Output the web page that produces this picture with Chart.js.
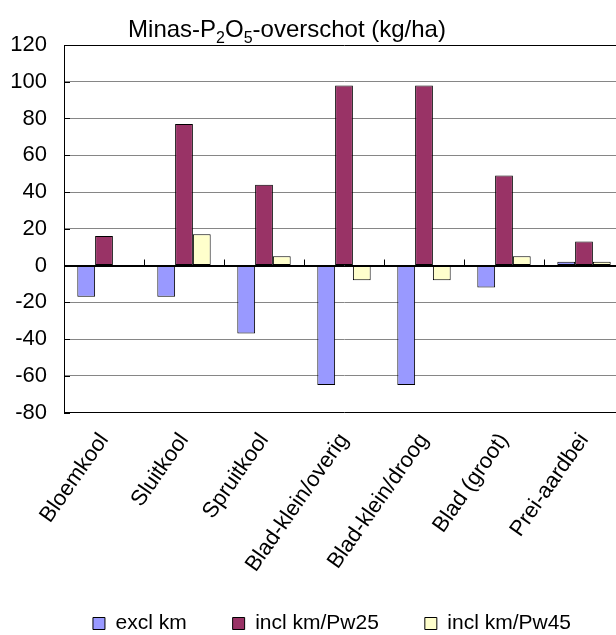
<!DOCTYPE html>
<html>
<head>
<meta charset="utf-8">
<script src="https://cdn.jsdelivr.net/npm/chart.js@4/dist/chart.umd.min.js"></script>
<style>
  html, body { margin: 0; padding: 0; background: #fff; }
  #wrap { width: 616px; height: 635px; overflow: hidden; position: relative; }
  canvas { display: block; }
</style>
</head>
<body>
<div id="wrap"><canvas id="c" width="624" height="644"></canvas></div>
<script>
// Gewassen en P2O5-overschot per variant (kg/ha)
const categories = ['Bloemkool', 'Sluitkool', 'Spruitkool', 'Blad-klein/overig', 'Blad-klein/droog', 'Blad (groot)', 'Prei-aardbei'];
const seriesNames = ['excl km', 'incl km/Pw25', 'incl km/Pw45'];
const exclKm = [-17, -17, -37, -65, -65, -12, 2];
const inclKmPw25 = [16, 77, 44, 98, 98, 49, 13];
const inclKmPw45 = [0, 17, 5, -8, -8, 5, 2];
const yTicks = [-80, -60, -40, -20, 0, 20, 40, 60, 80, 100, 120];

const FONT = "'Liberation Sans', Arial, sans-serif";
const colors = ['#9999FF', '#993366', '#FFFFCC'];

// Title with real subscripts: Minas-P2O5-overschot (kg/ha)
const titlePlugin = {
  id: 'subTitle',
  afterDraw(chart) {
    const ctx = chart.ctx;
    const parts = [
      ['Minas-P', false], ['2', true], ['O', false], ['5', true], ['-overschot (kg/ha)', false]
    ];
    const big = '24px ' + FONT, small = '16px ' + FONT;
    ctx.save();
    let total = 0;
    parts.forEach(([t, sub]) => { ctx.font = sub ? small : big; total += ctx.measureText(t).width; });
    let x = 287 - total / 2;
    const base = 37;
    ctx.fillStyle = '#000';
    ctx.textBaseline = 'alphabetic';
    ctx.textAlign = 'left';
    parts.forEach(([t, sub]) => {
      ctx.font = sub ? small : big;
      ctx.fillText(t, x, sub ? base + 6 : base);
      x += ctx.measureText(t).width;
    });
    ctx.restore();
  }
};

// Zero axis with category tick marks, and short inner ticks on the value axis
const axisPlugin = {
  id: 'axisMarks',
  afterDatasetsDraw(chart) {
    const ctx = chart.ctx;
    const xs = chart.scales.x, ys = chart.scales.y;
    const area = chart.chartArea;
    const y0 = Math.round(ys.getPixelForValue(0)) + 0.5;
    ctx.save();
    ctx.strokeStyle = '#000';
    ctx.lineWidth = 1;
    ctx.beginPath();
    ctx.moveTo(area.left, y0);
    ctx.lineTo(area.right, y0);
    const half = (xs.getPixelForValue(1) - xs.getPixelForValue(0)) / 2;
    for (let i = 0; i <= categories.length; i++) {
      const px = Math.round(xs.getPixelForValue(i) - half) + 0.5;
      ctx.moveTo(px, y0);
      ctx.lineTo(px, y0 - 7);
    }
    yTicks.forEach(v => {
      const py = Math.round(ys.getPixelForValue(v)) + 0.5;
      ctx.moveTo(area.left, py);
      ctx.lineTo(area.left + 6, py);
    });
    ctx.stroke();
    ctx.restore();
  }
};

// Shift the legend row to sit under the plot, and let the slanted
// category labels run down to the legend without being cut off
const layoutTweak = {
  id: 'layoutTweak',
  afterLayout(chart) {
    if (chart.legend) { chart.legend.left += 20; chart.legend.right += 20; }
    chart.scales.x.bottom = chart.height;
  }
};

const ds = (label, data, color) => ({
  label, data,
  backgroundColor: color,
  borderColor: '#000',
  borderWidth: 1,
  borderSkipped: false,
  categoryPercentage: 0.667,
  barPercentage: 1.0
});

new Chart(document.getElementById('c'), {
  type: 'bar',
  data: {
    labels: categories,
    datasets: [
      ds(seriesNames[0], exclKm, colors[0]),
      ds(seriesNames[1], inclKmPw25, colors[1]),
      ds(seriesNames[2], inclKmPw45, colors[2])
    ]
  },
  options: {
    responsive: false,
    animation: false,
    devicePixelRatio: 1,
    layout: { padding: { top: 45, left: 0, right: 0, bottom: 0 } },
    plugins: {
      title: { display: false },
      tooltip: { enabled: false },
      legend: {
        position: 'bottom',
        labels: {
          boxWidth: 12,
          boxHeight: 12,
          padding: 46,
          color: '#000',
          font: { family: FONT, size: 21 }
        }
      }
    },
    scales: {
      x: {
        grid: { display: false, drawTicks: false },
        border: { display: false },
        ticks: {
          color: '#000',
          font: { family: FONT, size: 22 },
          minRotation: 55,
          maxRotation: 55,
          autoSkip: false,
          padding: 16
        },
        afterFit(s) { s.height = 154.5; }
      },
      y: {
        min: -80,
        max: 120,
        afterBuildTicks(s) { s.ticks = yTicks.map(v => ({ value: v })); },
        grid: {
          drawTicks: false,
          color: ctx => (ctx.tick && (ctx.tick.value === 120 || ctx.tick.value === -80 || ctx.tick.value === 0)) ? '#000' : '#868686',
          lineWidth: 1
        },
        border: { display: true, color: '#000', width: 1 },
        ticks: {
          color: '#000',
          font: { family: FONT, size: 22 },
          padding: 17,
          autoSkip: false
        },
        afterFit(s) { s.width = 64; }
      }
    }
  },
  plugins: [titlePlugin, axisPlugin, layoutTweak]
});
</script>
</body>
</html>
